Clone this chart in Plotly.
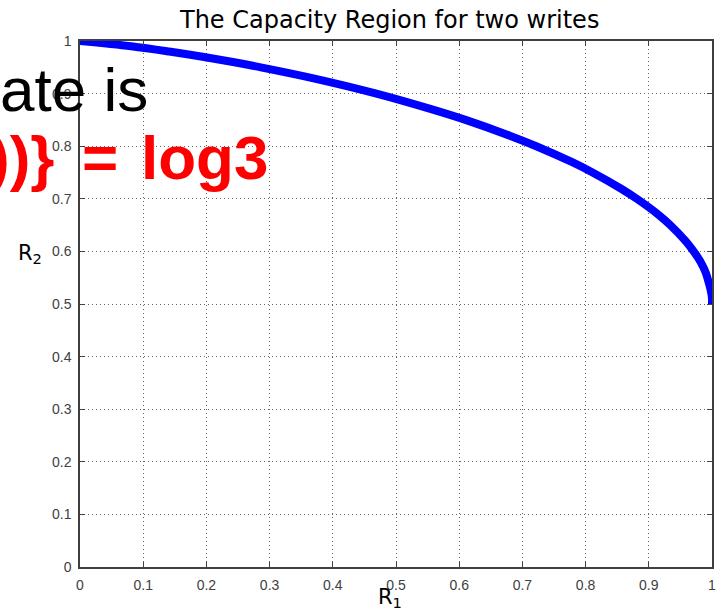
import plotly.graph_objects as go

# Curve: (R1, R2) pairs
r1_values = [0.0, 0.081, 0.141, 0.194, 0.242, 0.286, 0.366, 0.469, 0.557, 0.610,
             0.680, 0.722, 0.778, 0.811, 0.855, 0.881, 0.915, 0.934, 0.958, 0.971,
             0.982, 0.990, 0.995, 0.999, 1.0, 1.0]
r2_values = [1.0, 0.99, 0.98, 0.97, 0.96, 0.95, 0.93, 0.90, 0.87, 0.85,
             0.82, 0.80, 0.77, 0.75, 0.72, 0.70, 0.67, 0.65, 0.62, 0.60,
             0.58, 0.56, 0.54, 0.52, 0.51, 0.50]
tick_vals = [0, 0.1, 0.2, 0.3, 0.4, 0.5, 0.6, 0.7, 0.8, 0.9, 1]
tick_text = ["0", "0.1", "0.2", "0.3", "0.4", "0.5", "0.6", "0.7", "0.8", "0.9", "1"]

W, H = 722, 611
L, R, T, B = 80, 10, 41, 44
pw, ph = W - L - R, H - T - B

def px(x):
    return (x - L) / pw

def py(y):
    return (H - B - y) / ph

fig = go.Figure()
fig.add_trace(go.Scatter(x=r1_values, y=r2_values, mode="lines",
                         line=dict(color="#0000FF", width=8, shape="spline"),
                         hoverinfo="skip", showlegend=False))

axis_common = dict(
    range=[0, 1], tickmode="array", tickvals=tick_vals, ticktext=tick_text,
    showline=True, linecolor="#404040", linewidth=1.5, mirror="allticks",
    ticks="inside", ticklen=5, tickcolor="#404040", automargin=False,
    showgrid=True, gridcolor="#666666", griddash="1px,3px", gridwidth=1,
    zeroline=False, ticklabelstandoff=4,
    tickfont=dict(family="Liberation Sans, Arial", size=14, color="#404040"),
)
fig.update_xaxes(**axis_common)
fig.update_yaxes(**axis_common)

red_font = dict(family="Liberation Sans, Arial", size=62, color="#FF0000", weight="bold")
ann = []
ann.append(dict(text="The Capacity Region for two writes", x=px(389), y=py(20),
                xref="paper", yref="paper", xanchor="center", yanchor="middle",
                showarrow=False, font=dict(family="Comic Sans MS, DejaVu Sans", size=24, color="black")))
ann.append(dict(text="R<sub>1</sub>", x=px(390), y=py(598), xref="paper", yref="paper",
                xanchor="center", yanchor="middle", showarrow=False,
                font=dict(family="DejaVu Sans", size=21, color="black")))
ann.append(dict(text="R<sub>2</sub>", x=px(30), y=py(254), xref="paper", yref="paper",
                xanchor="center", yanchor="middle", showarrow=False,
                font=dict(family="DejaVu Sans", size=21, color="black")))
ann.append(dict(text="ate is", x=px(-2), y=py(89), xref="paper", yref="paper",
                xanchor="left", yanchor="middle", showarrow=False,
                font=dict(family="Liberation Sans, Arial", size=62, color="black")))
ann.append(dict(text="))}", x=px(56), y=py(157), xref="paper", yref="paper",
                xanchor="right", yanchor="middle", showarrow=False, font=red_font))
ann.append(dict(text="=", x=px(100), y=py(157), xref="paper", yref="paper",
                xanchor="center", yanchor="middle", showarrow=False, font=red_font))
ann.append(dict(text="log3", x=px(270), y=py(157), xref="paper", yref="paper",
                xanchor="right", yanchor="middle", showarrow=False, font=red_font))

fig.update_layout(width=W, height=H, margin=dict(l=L, r=R, t=T, b=B, autoexpand=False),
                  paper_bgcolor="white", plot_bgcolor="white", annotations=ann,
                  showlegend=False)
fig.write_html("out.html", config={"displayModeBar": False},
               post_script="document.body.style.margin='0';document.body.style.overflow='hidden';")
